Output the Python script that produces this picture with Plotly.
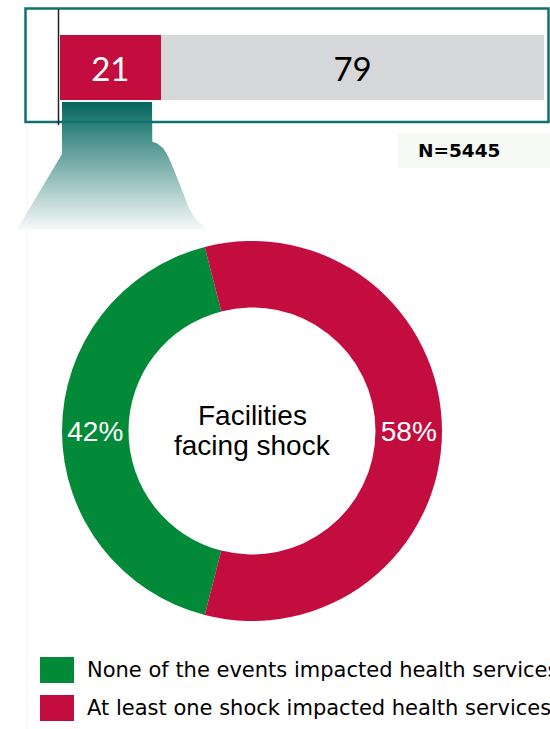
import plotly.graph_objects as go

# ---- data ----
bar_labels = ["Affected", "Not affected"]
bar_values = [21, 79]
bar_colors = ["#C30D3E", "#D6D7D9"]
bar_text_colors = ["white", "black"]

pie_labels = ["None of the events impacted health services",
              "At least one shock impacted health services"]
pie_values = [42, 58]
pie_colors = ["#028A38", "#C30D3E"]

center_lines = ["Facilities", "facing shock"]
n_label = "N=5445"

W, H = 550, 729
TEAL = "#117170"

fig = go.Figure()

# pixel-space helper axes (x: 0..W, y: 0..H top-down) for decorations
fig.update_layout(
    xaxis=dict(range=[0, W], domain=[0, 1], visible=False, fixedrange=True),
    yaxis=dict(range=[H, 0], domain=[0, 1], visible=False, fixedrange=True),
)

# teal "spotlight" under the highlighted bar segment, fading to white
spot_x = [62, 152, 152.3, 156.7, 163.3, 168.3, 173.3, 178.3, 183.3, 188.3,
          195, 201.7, 208, 210, 17, 62, 62]
spot_y = [102, 102, 141.7, 143.3, 148.3, 156.7, 168.3, 180, 193.3, 206.7,
          218.3, 225, 228.3, 229.5, 229.5, 154, 102]
fig.add_trace(go.Scatter(
    x=spot_x, y=spot_y, mode="lines", fill="toself",
    line=dict(width=0, color="rgba(0,0,0,0)"),
    fillgradient=dict(type="vertical",
                      colorscale=[[0, "#03665F"], [1, "#FFFFFF"]],
                      start=102, stop=234),
    hoverinfo="skip", showlegend=False, xaxis="x", yaxis="y",
))

# stacked 100% bar
for lab, val, col, tcol in zip(bar_labels, bar_values, bar_colors, bar_text_colors):
    fig.add_trace(go.Bar(
        y=[0], x=[val], orientation="h", name=lab,
        marker=dict(color=col, line=dict(width=0)),
        width=1, text=[str(val)], textposition="inside",
        insidetextanchor="middle",
        textfont=dict(family="Lato", size=33, color=tcol),
        xaxis="x2", yaxis="y2", showlegend=False, hoverinfo="skip",
    ))

fig.update_layout(
    barmode="stack",
    xaxis2=dict(range=[0, 100], domain=[59.5 / W, 544 / W], visible=False,
                anchor="y2", fixedrange=True),
    yaxis2=dict(range=[-0.5, 0.5], domain=[1 - 100 / H, 1 - 35 / H],
                visible=False, anchor="x2", fixedrange=True),
)

# donut
fig.add_trace(go.Pie(
    labels=pie_labels, values=pie_values, sort=False,
    direction="clockwise", rotation=194.4, hole=0.65,
    marker=dict(colors=pie_colors, line=dict(width=0)),
    texttemplate="%{percent:.0%}", textposition="inside",
    insidetextorientation="horizontal",
    textfont=dict(family="Liberation Sans, Arial", size=28, color="white"),
    domain=dict(x=[62 / W, 442 / W], y=[1 - 621 / H, 1 - 241 / H]),
    showlegend=False, hoverinfo="skip",
))

shapes = [
    # frame around the bar
    dict(type="rect", xref="x", yref="y", x0=25.5, x1=548.5, y0=8.5, y1=122,
         line=dict(color=TEAL, width=2.5), fillcolor="rgba(0,0,0,0)", layer="above"),
    # baseline of the bar
    dict(type="line", xref="x", yref="y", x0=58.5, x1=58.5, y0=9, y1=125,
         line=dict(color="#222222", width=1.5), layer="above"),
    # faint guide line
    dict(type="line", xref="x", yref="y", x0=27, x1=27, y0=124, y1=H,
         line=dict(color="#F2F2F2", width=1), layer="below"),
    # N label background
    dict(type="rect", xref="x", yref="y", x0=398, x1=552, y0=133, y1=168,
         line=dict(width=0), fillcolor="#F7F9F4", layer="below"),
]

annotations = [
    dict(text=f"<b>{n_label}</b>", x=459, y=150, xref="x", yref="y",
         showarrow=False, xanchor="center", yanchor="middle",
         font=dict(family="DejaVu Sans", size=18.5, color="black")),
    dict(text=center_lines[0], x=252.5, y=415, xref="x", yref="y",
         showarrow=False, xanchor="center", yanchor="middle",
         font=dict(family="Liberation Sans, Arial", size=28, color="black")),
    dict(text=center_lines[1], x=252.5, y=445, xref="x", yref="y",
         showarrow=False, xanchor="center", yanchor="middle",
         font=dict(family="Liberation Sans, Arial", size=28, color="black")),
]

# legend drawn as swatches + labels
legend_rows = [670, 708]
for lab, col, yc in zip(pie_labels, pie_colors, legend_rows):
    shapes.append(dict(type="rect", xref="x", yref="y", x0=40, x1=74,
                       y0=yc - 13, y1=yc + 13, line=dict(width=0), fillcolor=col))
    annotations.append(dict(text=lab, x=85, y=yc, xref="x", yref="y",
                            showarrow=False, xanchor="left", yanchor="middle",
                            font=dict(family="DejaVu Sans", size=21, color="black")))

fig.update_layout(
    width=W, height=H,
    margin=dict(l=0, r=0, t=0, b=0, pad=0),
    paper_bgcolor="white", plot_bgcolor="white",
    shapes=shapes, annotations=annotations,
    showlegend=False,
)

fig.write_html("out.html", config={"displayModeBar": False})
